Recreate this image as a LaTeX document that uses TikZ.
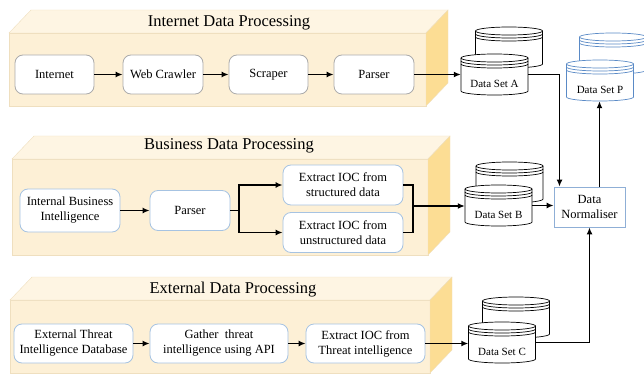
\documentclass[tikz,border=0pt]{standalone}
\usepackage{fontspec}
\setmainfont{Liberation Serif}
\usetikzlibrary{
    positioning,
    arrows.meta,
    calc
}
\definecolor{PanelFront}{HTML}{FDF0D6}
\definecolor{PanelTop}{HTML}{FEF5E3}
\definecolor{PanelSide}{HTML}{FCDD94}
\definecolor{PanelEdge}{HTML}{EFDFBF}
\definecolor{StepGray}{HTML}{ABABAB}
\definecolor{StepBlue}{HTML}{A6C3E2}
\definecolor{NormBlue}{HTML}{8FAFD6}
\definecolor{StoreBlue}{HTML}{5A8AC6}

% slab: x1, y1, x2, y2 (front face), depth 22/23
\newcommand{\slab}[4]{%
  \filldraw[fill=PanelFront,draw=PanelEdge] (#1,#2) rectangle (#3,#4);
  \filldraw[fill=PanelTop,draw=PanelEdge] (#1,#2) -- (#1+22,#2-23) -- (#3+22,#2-23) -- (#3,#2) -- cycle;
  \filldraw[fill=PanelSide,draw=PanelEdge] (#3,#2) -- (#3+22,#2-23) -- (#3+22,#4-23) -- (#3,#4) -- cycle;
}
% one drum: centre x, top y, colour
\newcommand{\dbdrum}[3]{%
  \filldraw[fill=white,draw=#3,line width=0.7pt] (#1-33.5,#2+4) -- (#1-33.5,#2+37)
    arc[start angle=180,end angle=360,x radius=33.5pt,y radius=4pt] -- (#1+33.5,#2+4)
    arc[start angle=0,end angle=180,x radius=33.5pt,y radius=4pt] -- cycle;
  \foreach \r in {0,3,6}
    \draw[#3,line width=0.7pt] (#1-33.5,#2+4+\r) arc[start angle=180,end angle=360,x radius=33.5pt,y radius=4pt];
}
% stack of two drums: name, centre x, top y, back dx, back dy, label, colour
\newcommand{\dbstack}[7]{%
  \dbdrum{#2+#4}{#3-#5}{#7}
  \dbdrum{#2}{#3}{#7}
  \node[store] (#1) at (#2,#3+20.5) {};
  \node[storelabel] (#1-label) at (#2,#3+29.5) {#6};
}

\begin{document}
\begin{tikzpicture}[
    x=1pt, y=-1pt,
    font=\rmfamily,
    >=Latex,
    step box/.style={draw=StepGray, fill=white, rounded corners=8pt, line width=0.8pt,
        align=center, inner sep=1pt, font=\rmfamily\fontsize{12.5}{15}\selectfont},
    blue box/.style={step box, draw=StepBlue},
    norm box/.style={draw=NormBlue, fill=white, line width=0.8pt, align=center,
        minimum width=71pt, minimum height=40pt, inner sep=1pt, font=\rmfamily\fontsize{12.5}{15}\selectfont},
    paneltitle/.style={font=\rmfamily\fontsize{16.5}{19}\selectfont, inner sep=0pt},
    store/.style={minimum width=67pt, minimum height=41pt, inner sep=0pt},
    storelabel/.style={font=\rmfamily\fontsize{11}{13}\selectfont, inner sep=0pt},
    flow/.style={-{Latex[length=7pt,width=6pt]}, line width=1.6pt},
    wire/.style={line width=1.6pt},
]
\useasboundingbox (0,0) rectangle (644,374);

% Panels
\slab{9}{33}{426}{106}
\slab{12}{159}{428}{255}
\slab{10}{300}{430}{373}
\node[paneltitle] (t-inet) at (229,23) {Internet Data Processing};
\node[paneltitle] (t-bus) at (229,146) {Business Data Processing};
\node[paneltitle] (t-ext) at (233,290) {External Data Processing};

% Internet row
\def\rowA{74.5}
\node[step box, minimum width=79pt, minimum height=39pt] (inet) at (54.5,\rowA) {Internet};
\node[step box, minimum width=80pt, minimum height=39pt] (crawl) at (163,\rowA) {Web Crawler};
\node[step box, minimum width=79pt, minimum height=39pt] (scrape) at (268.5,\rowA) {Scraper};
\node[step box, minimum width=80pt, minimum height=39pt] (iparse) at (374,\rowA) {Parser};

% Business row
\def\rowB{210.5}
\node[blue box, minimum width=100pt, minimum height=43pt] (ibi) at (70,\rowB) {Internal Business\\Intelligence};
\node[blue box, minimum width=80pt, minimum height=40pt] (bparse) at (190,\rowB) {Parser};
\node[blue box, minimum width=120pt, minimum height=40pt] (iocs) at (343,185) {Extract IOC from\\structured data};
\node[blue box, minimum width=120pt, minimum height=40pt] (iocu) at (343,232.5) {Extract IOC from\\unstructured data};

% External row
\def\rowC{343.5}
\node[blue box, minimum width=119pt, minimum height=39pt] (etid) at (73.5,\rowC) {External Threat\\Intelligence Database};
\node[blue box, minimum width=138pt, minimum height=39pt] (gather) at (219,\rowC) {Gather\ \ threat\\intelligence using API};
\node[blue box, minimum width=119pt, minimum height=39pt] (xioc) at (365.5,\rowC) {Extract IOC from\\Threat intelligence};

% Data sets
\dbstack{dsA}{494.5}{54}{14.5}{27}{Data Set A}{black}
\dbstack{dsP}{600}{60}{13}{27}{Data Set P}{StoreBlue}
\dbstack{dsB}{498.5}{185}{11}{23}{Data Set B}{black}
\dbstack{dsC}{502}{322}{14}{25}{Data Set C}{black}

\node[norm box] (norm) at (589.5,207) {Data\\Normaliser};

% Flows
\draw[flow] (inet) -- (crawl);
\draw[flow] (crawl) -- (scrape);
\draw[flow] (scrape) -- (iparse);
\draw[flow] (iparse.east) -- (iparse.east -| dsA.west);

\coordinate (split) at (239,\rowB);
\coordinate (merge) at (413,206);
\draw[flow] (ibi) -- (bparse);
\draw[wire] (bparse.east) -- (split);
\draw[flow] (split) |- (iocs.west);
\draw[flow] (split) |- (iocu.west);
\draw[wire] (iocs.east) -| (merge);
\draw[wire] (iocu.east) -| (merge);
\draw[flow] (merge) -- (merge -| dsB.west);

\draw[flow] (etid) -- (gather);
\draw[flow] (gather) -- (xioc);
\draw[flow] (xioc.east) -- (xioc.east -| dsC.west);

\draw[flow] (dsA.east) -| ([xshift=-30pt]norm.north);
\draw[flow] (dsB.east) -- (dsB.east -| norm.west);
\draw[flow] (dsC.east) -| (norm.south);
\draw[flow] ([xshift=10pt]norm.north) -- ([xshift=10pt]norm.north |- dsP.south);
\end{tikzpicture}
\end{document}
